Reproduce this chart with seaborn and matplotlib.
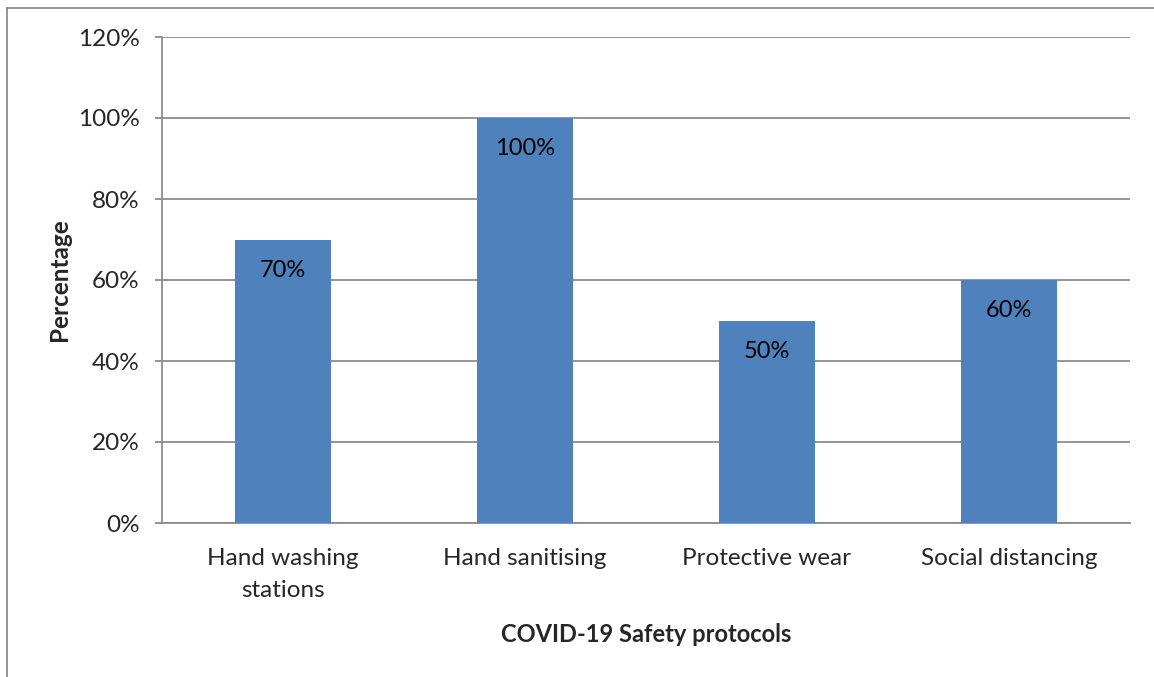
import matplotlib
matplotlib.use("Agg")
import matplotlib.pyplot as plt
import seaborn as sns
import pandas as pd
from matplotlib.lines import Line2D
from matplotlib.ticker import PercentFormatter

categories = ["Hand washing\nstations", "Hand sanitising", "Protective wear", "Social distancing"]
values = [70, 100, 50, 60]
yticks = [0, 20, 40, 60, 80, 100, 120]

sns.set_theme(style="white")
plt.rcParams['font.family'] = ['Lato', 'DejaVu Sans']

W, H = 1154, 677
fig = plt.figure(figsize=(W / 100, H / 100), dpi=100)
fig.patch.set_facecolor("white")
ax = fig.add_axes([162 / W, 1 - 523 / H, (1130 - 162) / W, (523 - 37) / H])

df = pd.DataFrame({"cat": categories, "val": values})
sns.barplot(data=df, x="cat", y="val", color="#4F81BD", saturation=1, width=0.4,
            linewidth=0, ax=ax, zorder=3)

grid_c = "#8C8C8C"
ax.set_ylim(0, 120)
ax.set_yticks(yticks)
ax.yaxis.set_major_formatter(PercentFormatter(decimals=0))
ax.grid(axis="y", color=grid_c, linewidth=1.3, zorder=0)
ax.set_axisbelow(True)
for s in ["top", "right"]:
    ax.spines[s].set_visible(False)
ax.spines["left"].set_color(grid_c)
ax.spines["bottom"].set_color(grid_c)
ax.spines["left"].set_linewidth(1.3)
ax.spines["bottom"].set_linewidth(1.3)
ax.tick_params(axis="y", length=5, width=1.3, color=grid_c, direction="out", labelsize=17.5, pad=11, left=True)
ax.tick_params(axis="x", length=0, labelsize=17.5, pad=18)
for lab in ax.get_xticklabels():
    lab.set_linespacing(1.62)

ax.set_xlabel("COVID-19 Safety protocols", fontsize=17, fontweight="bold", labelpad=16)
ax.set_ylabel("Percentage", fontsize=17.5, fontweight="bold", labelpad=5)

for i, v in enumerate(values):
    ax.annotate(f"{v}%", (i, v), xytext=(0, -22), textcoords="offset points",
                ha="center", va="center", fontsize=17, color="black", zorder=4)

# outer border (left and top edges)
fig.add_artist(Line2D([7 / W, 7 / W], [0, 1 - 8 / H], transform=fig.transFigure, color="#8C8C8C", linewidth=1.3))
fig.add_artist(Line2D([7 / W, 1], [1 - 8 / H, 1 - 8 / H], transform=fig.transFigure, color="#8C8C8C", linewidth=1.3))

fig.savefig("out.png", dpi=100, facecolor="white")
